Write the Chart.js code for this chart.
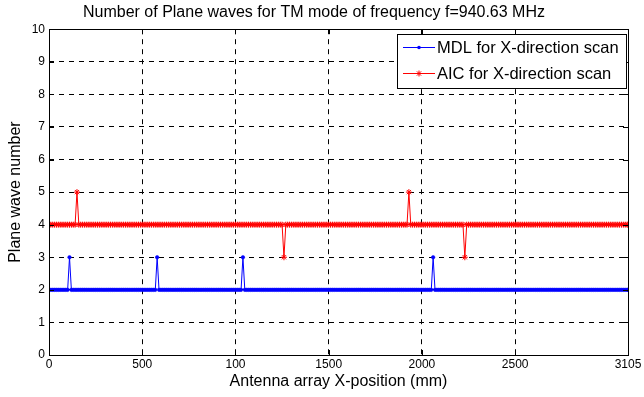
<!DOCTYPE html>
<html>
<head>
<meta charset="utf-8">
<script src="https://cdn.jsdelivr.net/npm/chart.js@4/dist/chart.umd.min.js"></script>
<style>
  html, body { margin: 0; padding: 0; background: #fff; }
  #wrap { width: 644px; height: 397px; }
</style>
</head>
<body>
<div id="wrap"><canvas id="chart" width="644" height="397"></canvas></div>
<script>
// scan positions (mm), one sample every 10 mm
const scanStart = 0;
const scanEnd = 3105;
const scanStep = 10;

// MDL estimate: 2 plane waves almost everywhere, 3 at a few positions
const mdlLevel = 2;
const mdlSpikes = [[110, 3], [580, 3], [1040, 3], [2060, 3]];

// AIC estimate: 4 plane waves almost everywhere
const aicLevel = 4;
const aicSpikes = [[150, 5], [1260, 3], [1930, 5], [2230, 3]];

const xTickValues = [0, 500, 1000, 1500, 2000, 2500, 3105];
const xTickLabels = ['0', '500', '100', '1500', '2000', '2500', '3105'];
const yTickValues = [0, 1, 2, 3, 4, 5, 6, 7, 8, 9, 10];

const seriesNames = ['MDL for X-direction scan', 'AIC for X-direction scan'];

function buildSeries(level, spikes) {
    const pts = [];
    for (let x = scanStart; x <= scanEnd; x += scanStep) {
        const hit = spikes.find(s => s[0] === x);
        pts.push({ x: x, y: hit ? hit[1] : level });
    }
    if (pts[pts.length - 1].x !== scanEnd) pts.push({ x: scanEnd, y: level });
    return pts;
}

const font = 'Liberation Sans, Arial, sans-serif';

// bordas, ticks internos e legenda estilo MATLAB
const matlabFrame = {
    id: 'matlabFrame',
    afterDatasetsDraw(chart) {
        const { ctx, chartArea: a, scales } = chart;
        ctx.save();
        ctx.strokeStyle = '#000';
        ctx.lineWidth = 1;
        ctx.setLineDash([]);
        ctx.beginPath();
        xTickValues.forEach(v => {
            const px = Math.round(scales.x.getPixelForValue(v)) + 0.5;
            ctx.moveTo(px, a.bottom); ctx.lineTo(px, a.bottom - 5);
            ctx.moveTo(px, a.top); ctx.lineTo(px, a.top + 5);
        });
        yTickValues.forEach(v => {
            const py = Math.round(scales.y.getPixelForValue(v)) + 0.5;
            ctx.moveTo(a.left, py); ctx.lineTo(a.left + 5, py);
            ctx.moveTo(a.right, py); ctx.lineTo(a.right - 5, py);
        });
        ctx.stroke();
        ctx.strokeRect(Math.round(a.left) + 0.5, Math.round(a.top) + 0.5,
            Math.round(a.right - a.left), Math.round(a.bottom - a.top));

        // legenda
        const bx = 397.5, by = 34.5, bw = 229, bh = 54;
        ctx.fillStyle = '#fff';
        ctx.fillRect(bx, by, bw, bh);
        ctx.strokeRect(bx, by, bw, bh);
        ctx.font = '16.5px ' + font;
        ctx.textBaseline = 'middle';
        chart.data.datasets.forEach((ds, i) => {
            const ly = 47 + i * 26;
            ctx.strokeStyle = ds.borderColor;
            ctx.beginPath();
            ctx.moveTo(403, ly + 0.5); ctx.lineTo(435, ly + 0.5);
            ctx.stroke();
            ctx.fillStyle = ds.borderColor;
            if (i === 0) {
                ctx.beginPath(); ctx.arc(419, ly + 0.5, 1.8, 0, Math.PI * 2); ctx.fill();
            } else {
                ctx.beginPath();
                for (let k = 0; k < 4; k++) {
                    const ang = k * Math.PI / 4;
                    ctx.moveTo(419 - 3 * Math.cos(ang), ly + 0.5 - 3 * Math.sin(ang));
                    ctx.lineTo(419 + 3 * Math.cos(ang), ly + 0.5 + 3 * Math.sin(ang));
                }
                ctx.stroke();
            }
            ctx.fillStyle = '#000';
            ctx.fillText(ds.label, 437, ly + 1);
        });
        ctx.restore();
    }
};

new Chart(document.getElementById('chart').getContext('2d'), {
    type: 'line',
    data: {
        datasets: [{
            label: seriesNames[0],
            data: buildSeries(mdlLevel, mdlSpikes),
            borderColor: '#0000ff',
            backgroundColor: '#0000ff',
            borderWidth: 1,
            pointRadius: 1.8,
            pointStyle: 'circle',
            pointBorderWidth: 0.5
        }, {
            label: seriesNames[1],
            data: buildSeries(aicLevel, aicSpikes),
            borderColor: '#ff0000',
            backgroundColor: '#ff0000',
            borderWidth: 1,
            pointRadius: 3,
            pointStyle: 'star',
            pointBorderWidth: 1
        }]
    },
    options: {
        responsive: false,
        animation: false,
        events: [],
        layout: { padding: { left: 0, right: 16, top: 0, bottom: 0 } },
        plugins: {
            legend: { display: false },
            tooltip: { enabled: false },
            title: {
                display: true,
                text: 'Number of Plane waves for TM mode of frequency f=940.63 MHz',
                color: '#000',
                font: { family: font, size: 16, weight: 'normal' },
                padding: { top: 3, bottom: 7 }
            }
        },
        scales: {
            x: {
                type: 'linear',
                min: 0,
                max: 3105,
                afterBuildTicks: s => { s.ticks = xTickValues.map(v => ({ value: v })); },
                afterFit: s => { s.height = 42; },
                ticks: {
                    autoSkip: false,
                    maxRotation: 0,
                    color: '#000',
                    font: { family: font, size: 12 },
                    padding: 2,
                    callback: v => xTickLabels[xTickValues.indexOf(v)]
                },
                grid: { color: '#000', lineWidth: 1, drawTicks: false },
                border: { display: false, dash: [5, 5] },
                title: {
                    display: true,
                    text: 'Antenna array X-position (mm)',
                    color: '#000',
                    font: { family: font, size: 16 },
                    padding: { top: 0, bottom: 6 }
                }
            },
            y: {
                min: 0,
                max: 10,
                afterBuildTicks: s => { s.ticks = yTickValues.map(v => ({ value: v })); },
                afterFit: s => { s.width = 49; },
                ticks: {
                    color: '#000',
                    font: { family: font, size: 12 },
                    padding: 4
                },
                grid: { color: '#000', lineWidth: 1, drawTicks: false },
                border: { display: false, dash: [5, 5] },
                title: {
                    display: true,
                    text: 'Plane wave number',
                    color: '#000',
                    font: { family: font, size: 16 },
                    padding: { top: 6, bottom: 0 }
                }
            }
        }
    },
    plugins: [matlabFrame]
});
</script>
</body>
</html>
